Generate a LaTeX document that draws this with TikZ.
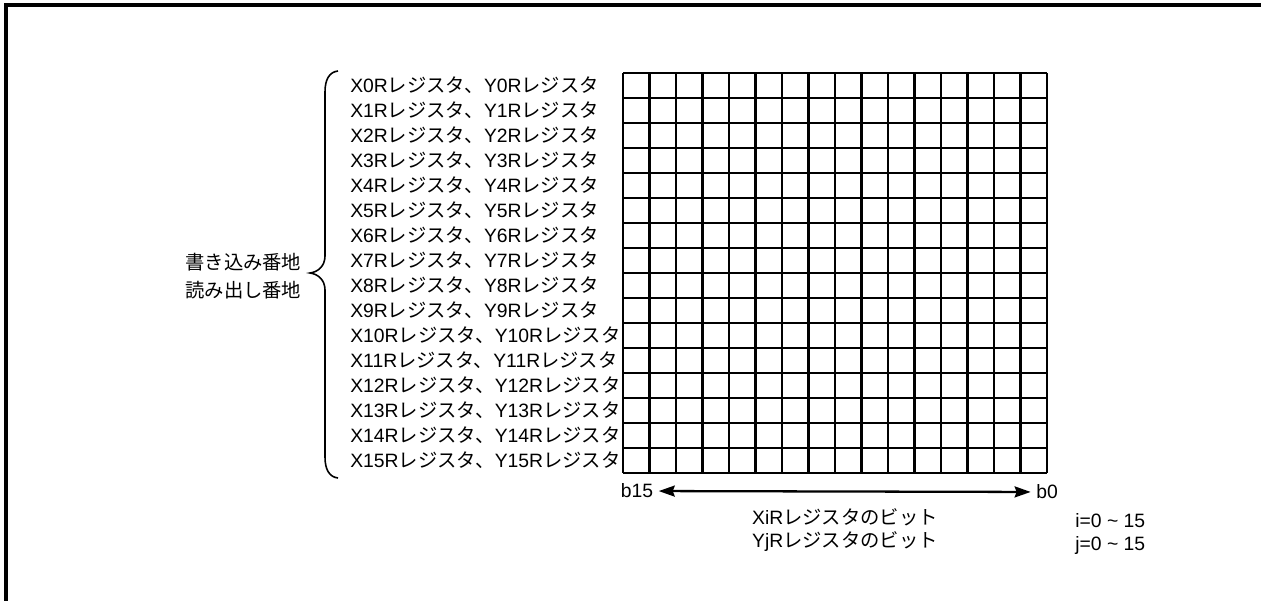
\documentclass[tikz,border=0pt]{standalone}
\usepackage{fontspec}
\setmainfont{Liberation Sans}
\newfontfamily\jpfont{Noto Sans CJK JP}
\newcommand{\jp}[1]{{\jpfont #1}}
\usetikzlibrary{positioning, arrows.meta}

\begin{document}
\begin{tikzpicture}[
			x=0.02cm, y=-0.02cm,
			every node/.style = {
				inner sep=0pt,
				font=\fontsize{11}{13}\selectfont,
				text=black
			},
			rahmen/.style = {line width=1.9pt},
			zelle/.style = {line width=1.3pt},
			klammer/.style = {line width=0.9pt},
			pfeil/.style = {line width=1.3pt, {Stealth[length=0.32cm,width=0.22cm,inset=0.04cm]}-{Stealth[length=0.32cm,width=0.22cm,inset=0.04cm]}}
			]
			
			\useasboundingbox (0,0) rectangle (1261,601);
			\draw[rahmen] (6,601) -- (6,5) -- (1261,5);
			
			\foreach \c in {0,...,16}
				\draw[zelle] (623+26.5*\c,73) -- (623+26.5*\c,473);
			\foreach \r in {0,...,16}
				\draw[zelle] (623,73+25*\r) -- (1047,73+25*\r);
			
			\foreach \r in {0,...,15}
				\node[anchor=west] (reg\r) at (350,85.5+25*\r) {X\r R\jp{レジスタ、}Y\r R\jp{レジスタ}};
			
			\draw[klammer] (338,71) .. controls (329,72) and (325,80) .. (325,92) -- (325,256)
				.. controls (325,266) and (318,272) .. (310,273)
				.. controls (318,274) and (325,280) .. (325,290) -- (325,457)
				.. controls (325,469) and (329,477) .. (338,478);
			
			\node[anchor=west] (schreib) at (185,262) {\jp{書き込み番地}};
			\node[anchor=west] (lese) at (185,290) {\jp{読み出し番地}};
			
			\node[inner sep=3pt] (b15) at (637,491) {b15};
			\node[inner sep=3pt] (b0) at (1047,492) {b0};
			\draw[pfeil] (b15) -- (b0);
			
			\node (xbit) at (845,517) {XiR\jp{レジスタのビット}};
			\node (ybit) at (845,542) {YjR\jp{レジスタのビット}};
			
			\node[anchor=west] (ibereich) at (1075,521) {i=0 \textasciitilde\ 15};
			\node[anchor=west] (jbereich) at (1075,546) {j=0 \textasciitilde\ 15};
			
		\end{tikzpicture}
\end{document}
